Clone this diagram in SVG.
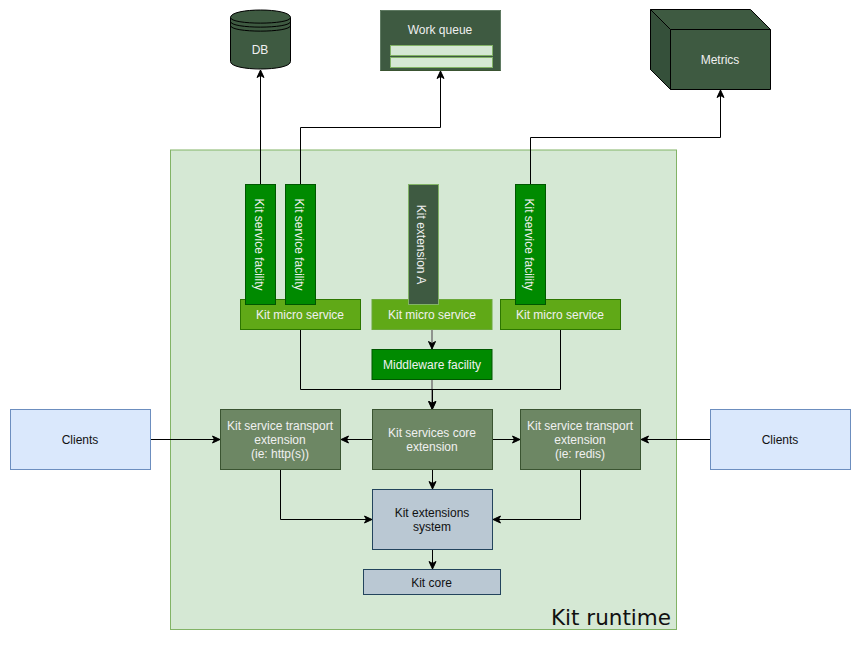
<svg xmlns="http://www.w3.org/2000/svg" width="864" height="647" viewBox="0 0 864 647">
<style>
text{font-family:"Liberation Sans",Arial,sans-serif;font-size:12px;text-anchor:middle;fill:#f0f0f0}
.dk{fill:#111}
.wire{fill:none;stroke:#000;stroke-width:1}
.ms{fill:#60a917;stroke:#2d7600}
.fac{fill:#008a00;stroke:#005700}
.ext{fill:#6d8764;stroke:#3a5431}
.sys{fill:#bac8d3;stroke:#23445d}
.cli{fill:#dae8fc;stroke:#6c8ebf}
.drk{fill:#3e5a41;stroke:#000}
</style>
<defs>
<marker id="a" markerUnits="userSpaceOnUse" markerWidth="10" markerHeight="10" refX="8" refY="5" orient="auto"><path d="M0.500,1.500L8,5L0.500,8.500L2.500,5Z" fill="#000" stroke="#000" stroke-width="1"/></marker>
</defs>
<g id="runtime"><rect x="170.500" y="150" width="506" height="479.500" fill="#d5e8d4" stroke="#82b366"/><text x="611" y="625" style="font-family:'DejaVu Sans',sans-serif;font-size:21.500px" class="dk">Kit runtime</text></g>
<g id="connectors">
<path class="wire" d="M260.500,184V70" marker-end="url(#a)"/>
<path class="wire" d="M300.500,184V127.500H440.500V71" marker-end="url(#a)"/>
<path class="wire" d="M530.500,184V137.500H720.500V90" marker-end="url(#a)"/>
<path class="wire" d="M432,330V349" marker-end="url(#a)" style="stroke:#777;stroke-width:1.500"/>
<path class="wire" d="M432,380V409" marker-end="url(#a)" style="stroke:#777;stroke-width:1.500"/>
<path class="wire" d="M300.500,330V389.500H560.500V330"/>
<path class="wire" d="M432.500,389.500V409" marker-end="url(#a)"/>
<path class="wire" d="M150.500,439.500H220" marker-end="url(#a)"/>
<path class="wire" d="M710.500,439.500H641" marker-end="url(#a)"/>
<path class="wire" d="M372.500,439.500H341" marker-end="url(#a)"/>
<path class="wire" d="M492.500,439.500H520" marker-end="url(#a)"/>
<path class="wire" d="M432.500,470V489" marker-end="url(#a)"/>
<path class="wire" d="M280.500,470V519.500H372" marker-end="url(#a)"/>
<path class="wire" d="M580.500,470V519.500H493" marker-end="url(#a)"/>
<path class="wire" d="M432.500,550V569" marker-end="url(#a)"/>
</g>
<g id="db"><path d="M230.500,17.500C230.500,7.500 290.500,7.500 290.500,17.500V61.500C290.500,71.500 230.500,71.500 230.500,61.500Z" class="drk"/><path d="M230.500,17.500C230.500,25 290.500,25 290.500,17.500M230.500,21.500C230.500,29 290.500,29 290.500,21.500M230.500,25.500C230.500,33 290.500,33 290.500,25.500" fill="none" stroke="#000"/><text x="260" y="54">DB</text></g>
<g id="queue"><rect x="380.500" y="10.500" width="120" height="60" fill="#3e5a41" stroke="#3a5431"/><path d="M380.500,10.500H500.500M380.500,10.500V70.500M500.500,10.500V70.500" stroke="#5f7a62" fill="none"/><text x="440" y="34">Work queue</text><rect x="390.500" y="45.500" width="102" height="10" fill="#d5e8d4" stroke="#82b366"/><rect x="390.500" y="57.500" width="102" height="10" fill="#d5e8d4" stroke="#82b366"/></g>
<g id="metrics"><path d="M650.500,9.500H750.500L770.500,29.500V89.500H670.500L650.500,69.500Z" class="drk"/><path d="M650.500,9.500L670.500,29.500V89.500L650.500,69.500Z" fill="#35503a" stroke="#000"/><path d="M670.500,29.500H770.500" stroke="#000"/><text x="720" y="64">Metrics</text></g>
<g id="ms1"><rect class="ms" x="240.500" y="299.500" width="120" height="30"/><text x="300" y="319">Kit micro service</text></g>
<g id="ms2"><rect x="372" y="299.500" width="120" height="30" fill="#60a917" stroke="#6ba83a"/><text x="432" y="319">Kit micro service</text></g>
<g id="ms3"><rect class="ms" x="500.500" y="299.500" width="120" height="30"/><text x="560" y="319">Kit micro service</text></g>
<g id="fac1"><rect class="fac" x="245.500" y="184.500" width="30" height="120"/><text transform="translate(255,244.500) rotate(90)">Kit service facility</text></g>
<g id="fac2"><rect class="fac" x="285.500" y="184.500" width="30" height="120"/><text transform="translate(295,244.500) rotate(90)">Kit service facility</text></g>
<g id="extA"><rect x="408.500" y="184.500" width="30" height="120" fill="#3e5a41" stroke="#82b366"/><text transform="translate(417,244.500) rotate(90)">Kit extension A</text></g>
<g id="fac3"><rect class="fac" x="515.500" y="184.500" width="30" height="120"/><text transform="translate(525,244.500) rotate(90)">Kit service facility</text></g>
<g id="mw"><rect x="372" y="349.500" width="120" height="30" fill="#008a00" stroke="#005700"/><text x="432" y="369">Middleware facility</text></g>
<g id="t1"><rect class="ext" x="220.500" y="409.500" width="120" height="60"/><text x="280" y="430">Kit service transport</text><text x="280" y="444">extension</text><text x="280" y="458">(ie: http(s))</text></g>
<g id="core-ext"><rect class="ext" x="372.500" y="409.500" width="120" height="60"/><text x="432" y="437">Kit services core</text><text x="432" y="451">extension</text></g>
<g id="t2"><rect class="ext" x="520.500" y="409.500" width="120" height="60"/><text x="580" y="430">Kit service transport</text><text x="580" y="444">extension</text><text x="580" y="458">(ie: redis)</text></g>
<g id="sys"><rect class="sys" x="372.500" y="489.500" width="120" height="60"/><text class="dk" x="432" y="517">Kit extensions</text><text class="dk" x="432" y="531">system</text></g>
<g id="core"><rect class="sys" x="363.500" y="569.500" width="137" height="25"/><text class="dk" x="431.500" y="587">Kit core</text></g>
<g id="c1"><rect class="cli" x="10.500" y="409.500" width="140" height="60"/><text class="dk" x="80" y="444">Clients</text></g>
<g id="c2"><rect class="cli" x="710.500" y="409.500" width="140" height="60"/><text class="dk" x="780" y="444">Clients</text></g>
</svg>
